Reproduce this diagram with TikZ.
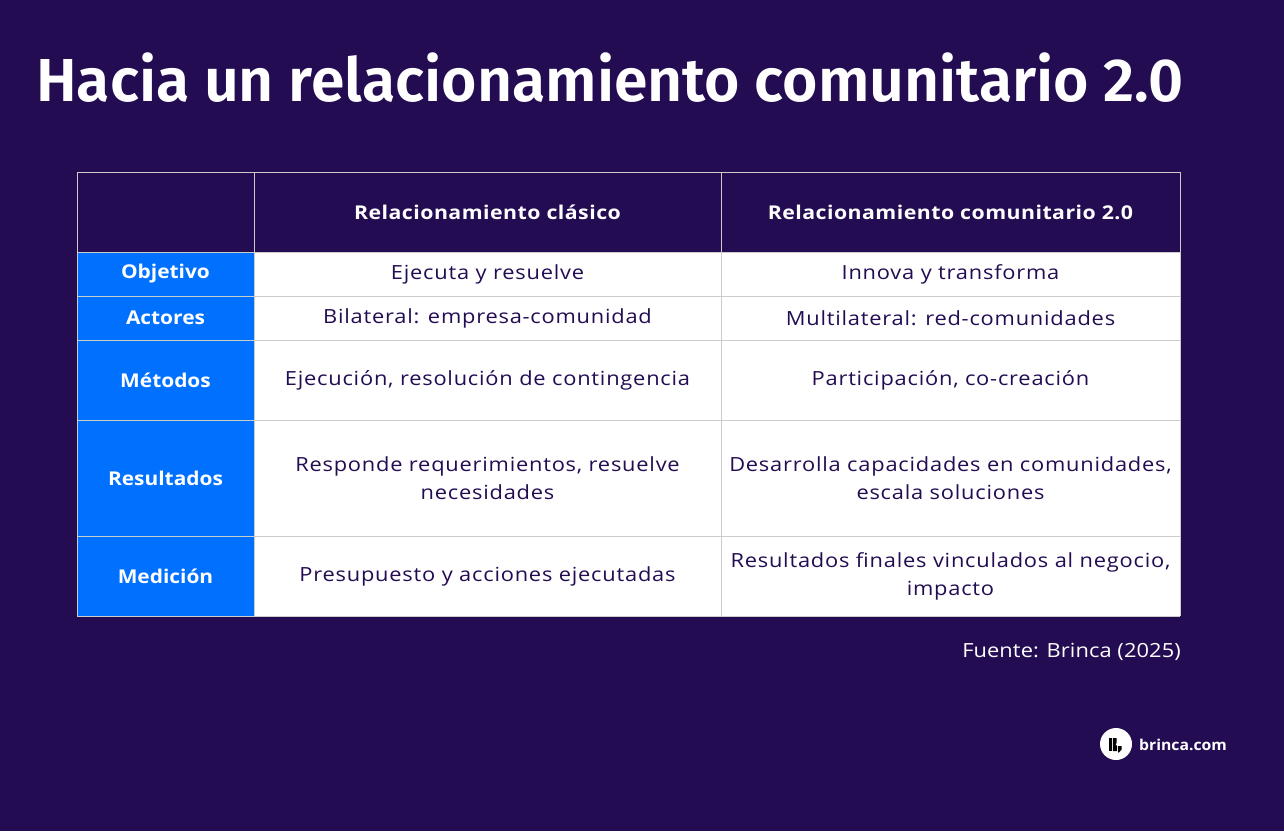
\documentclass[tikz,border=0pt]{standalone}
\usepackage{fontspec}
\setmainfont{Open Sans}
\newfontfamily\titlef{Fira Sans SemiBold}
\newfontfamily\bodyf[FakeStretch=1.12,LetterSpace=4]{Open Sans}
\newfontfamily\headf[FakeStretch=1.12,LetterSpace=2.5,UprightFont=*,BoldFont=*]{Open Sans Bold}
\newfontfamily\rowf[FakeStretch=1.1,UprightFont=*,BoldFont=*]{Open Sans Bold}
\newfontfamily\srcf[FakeStretch=1.12,LetterSpace=0.5]{Open Sans}
\newfontfamily\logof[FakeStretch=1.05,UprightFont=*,BoldFont=*]{Open Sans Bold}
\definecolor{bgp}{HTML}{230C52}
\definecolor{blu}{HTML}{0070FF}
\definecolor{grd}{HTML}{CCCCCC}
\tikzset{
  rowlab/.style={text=white, font=\rowf\fontsize{19}{23}\selectfont},
  headlab/.style={text=white, font=\headf\fontsize{19}{23}\selectfont},
  celltxt/.style={text=bgp, font=\bodyf\fontsize{19.5}{28}\selectfont, align=center},
}
\begin{document}
\begin{tikzpicture}[x=1pt,y=-1pt]
\fill[bgp] (0,0) rectangle (1284,831);
\useasboundingbox (0,0) rectangle (1284,831);
% title
\node[anchor=base west, text=white, font=\titlef\fontsize{60.7}{66}\selectfont, inner sep=0] (title) at (36,101) {Hacia un relacionamiento comunitario 2.0};
% table backgrounds
\fill[bgp] (77,172) rectangle (1180,252);
\fill[blu] (77,252) rectangle (254,616);
\fill[white] (254,252) rectangle (1180,616);
% grid
\foreach \y in {172,252,296,340,420,536,616} \draw[grd, line width=1pt] (77,\y) -- (1180,\y);
\foreach \x in {77,254,721,1180} \draw[grd, line width=1pt] (\x,172) -- (\x,616);
% header
\node[headlab] (h2) at (487.5,212) {Relacionamiento clásico};
\node[headlab] (h3) at (950.5,212) {Relacionamiento comunitario 2.0};
% row labels
\node[rowlab] (r1) at (165.5,274) {Objetivo};
\node[rowlab] (r2) at (165.5,318) {Actores};
\node[rowlab] (r3) at (165.5,380) {Métodos};
\node[rowlab] (r4) at (165.5,478) {Resultados};
\node[rowlab] (r5) at (165.5,576) {Medición};
% cells
\node[celltxt] (c12) at (487.5,274) {Ejecuta y resuelve};
\node[celltxt] (c13) at (950.5,274) {Innova y transforma};
\node[celltxt] (c22) at (487.5,318) {Bilateral: empresa-comunidad};
\node[celltxt] (c23) at (950.5,318) {Multilateral: red-comunidades};
\node[celltxt] (c32) at (487.5,380) {Ejecución, resolución de contingencia};
\node[celltxt] (c33) at (950.5,380) {Participación, co-creación};
\node[celltxt] (c42) at (487.5,478) {Responde requerimientos, resuelve\\necesidades};
\node[celltxt] (c43) at (950.5,478) {Desarrolla capacidades en comunidades,\\escala soluciones};
\node[celltxt] (c52) at (487.5,576) {Presupuesto y acciones ejecutadas};
\node[celltxt] (c53) at (950.5,576) {Resultados finales vinculados al negocio,\\impacto};
% source
\node[anchor=east, text=white, font=\srcf\fontsize{19.5}{24}\selectfont, inner sep=0] (src) at (1181,652) {Fuente: Brinca (2025)};
% logo
\fill[white] (1116,744) circle (16);
\fill[black] (1109,738) rectangle (1112,751);
\fill[black] (1112.8,738) -- (1116.5,738) -- (1116.5,743) -- (1115.5,744.5) -- (1117,746) -- (1117,751) -- (1112.8,751) -- cycle;
\fill[black] (1118,746) -- (1121.5,746) -- (1121.5,749.5) -- (1118.5,753) -- (1118,751) -- cycle;
\node[anchor=west, text=white, font=\logof\fontsize{15}{20}\selectfont, inner sep=0] (logo) at (1139,745) {brinca.com};
\end{tikzpicture}
\end{document}
